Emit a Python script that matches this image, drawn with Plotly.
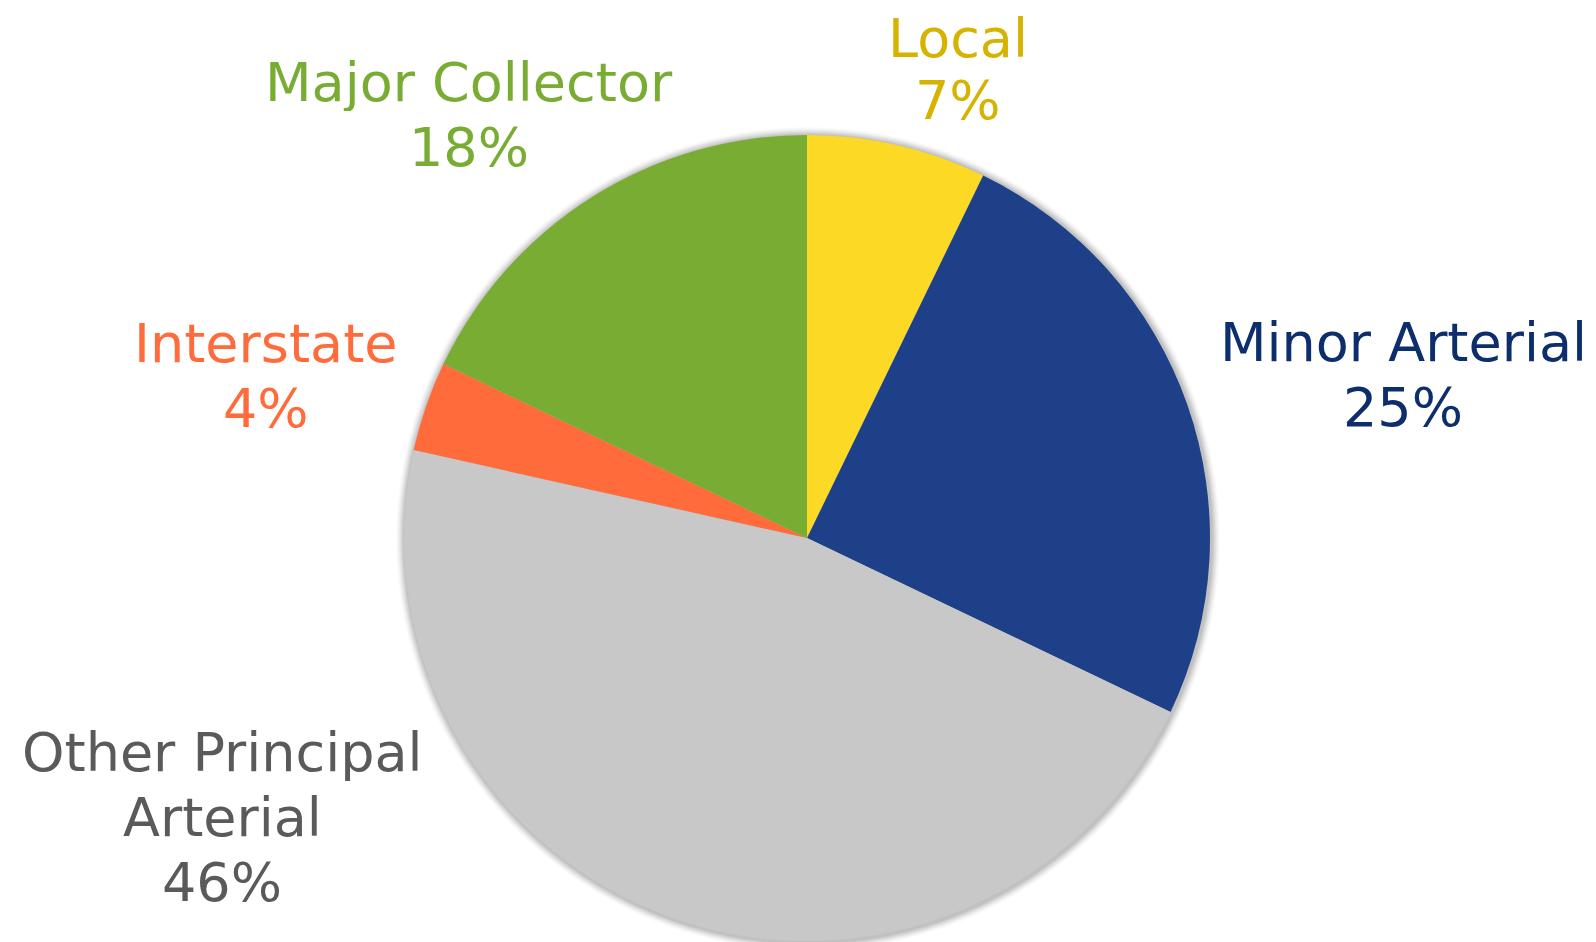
import plotly.graph_objects as go

categories = ["Local", "Minor Arterial", "Other Principal<br>Arterial", "Interstate", "Major Collector"]
values = [7.2, 24.9, 46.4, 3.6, 17.9]
slice_colors = ["#FCD924", "#1E4088", "#C8C8C8", "#FF6B3A", "#79AC33"]
text_colors = ["#D6B300", "#0D2E6C", "#5A5A5A", "#FF6B3A", "#79AC33"]
# label anchor positions in pixels: (x centre, y centre of first line, line gap)
label_pos = [(950, 30, 62), (1395, 334, 65), (214, 744, 65), (258, 335, 65), (461, 74, 65)]

W, H = 1596, 942
cx, cy, r = 799, 530, 403

fig = go.Figure()

fig.add_trace(go.Pie(
    labels=categories, values=values, sort=False, direction="clockwise", rotation=0,
    textinfo="none", marker=dict(colors=slice_colors, line=dict(width=0)),
    domain=dict(x=[(cx - r) / W, (cx + r) / W], y=[1 - (cy + r) / H, 1 - (cy - r) / H]),
    showlegend=False,
))

# soft halo behind the pie
for i, a in enumerate([0.015, 0.02, 0.025, 0.03, 0.035, 0.04, 0.045, 0.05]):
    rr = r + 9 - i
    fig.add_shape(
        type="circle", xref="paper", yref="paper", layer="below",
        x0=(cx + 1 - rr) / W, x1=(cx + 1 + rr) / W,
        y0=1 - (cy + 1 + rr) / H, y1=1 - (cy + 1 - rr) / H,
        fillcolor=f"rgba(0,0,0,{a})", line=dict(width=0),
    )

for cat, v, col, (px, py, gap) in zip(categories, values, text_colors, label_pos):
    lines = cat.split("<br>") + [f"{round(v)}%"]
    for k, txt in enumerate(lines):
        fig.add_annotation(
            x=px / W, y=1 - (py + k * gap) / H, xref="paper", yref="paper",
            text=txt, showarrow=False, height=58,
            xanchor="center", yanchor="middle", align="center", valign="middle",
            font=dict(family="DejaVu Sans", size=54, color=col),
        )

fig.update_layout(
    width=W, height=H, margin=dict(l=0, r=0, t=0, b=0),
    paper_bgcolor="white", plot_bgcolor="white",
)
fig.write_html("out.html")
